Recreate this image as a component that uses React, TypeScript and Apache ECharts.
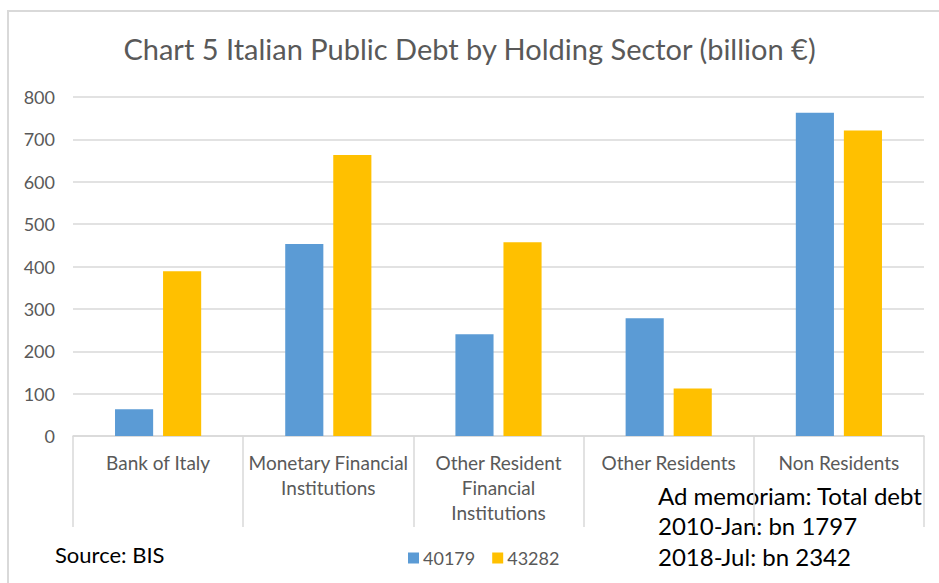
import React, { useEffect, useRef } from "react";
import * as echarts from "echarts";

const categories = [
  "Bank of Italy",
  "Monetary Financial\nInstitutions",
  "Other Resident\nFinancial\nInstitutions",
  "Other Residents",
  "Non Residents",
];
const seriesNames = ["40179", "43282"];
const values2010 = [63, 453, 240, 278, 763];
const values2018 = [389, 663, 457, 112, 721];
const yTicks = [0, 100, 200, 300, 400, 500, 600, 700, 800];
const titleText = "Chart 5 Italian Public Debt by Holding Sector (billion €)";
const sourceText = "Source: BIS";
const memoLines = ["Ad memoriam: Total debt", "2010-Jan: bn 1797", "2018-Jul: bn 2342"];

const FONT = "Lato, 'Open Sans', sans-serif";

export default function App() {
  const ref = useRef<HTMLDivElement>(null);
  useEffect(() => {
    if (!ref.current) return;
    const chart = echarts.init(ref.current, undefined, { renderer: "svg" });
    chart.setOption({
      animation: false,
      backgroundColor: "#ffffff",
      textStyle: { fontFamily: FONT },
      title: {
        text: titleText,
        left: "center",
        top: 29,
        textStyle: { fontFamily: FONT, fontSize: 29, fontWeight: "normal", color: "#595959" },
      },
      legend: {
        data: seriesNames,
        left: 403,
        top: 544,
        itemWidth: 11,
        itemHeight: 11,
        itemGap: 17,
        icon: "rect",
        textStyle: { fontFamily: FONT, fontSize: 18, color: "#595959", padding: [0, 0, 0, -1] },
      },
      grid: { left: 73, right: 15, top: 97, bottom: 147, containLabel: false },
      xAxis: {
        type: "category",
        data: categories,
        axisLine: { lineStyle: { color: "#d9d9d9", width: 1.5 } },
        axisTick: { show: true, length: 91, lineStyle: { color: "#d9d9d9", width: 1.5 } },
        axisLabel: {
          interval: 0,
          margin: 14,
          fontFamily: FONT,
          fontSize: 19,
          lineHeight: 25,
          color: "#595959",
          verticalAlign: "top",
        },
      },
      yAxis: {
        type: "value",
        min: yTicks[0],
        max: yTicks[yTicks.length - 1],
        interval: 100,
        axisLine: { show: false },
        axisTick: { show: false },
        splitLine: { lineStyle: { color: "#d9d9d9", width: 1.5 } },
        axisLabel: { margin: 18, fontFamily: FONT, fontSize: 18, color: "#595959" },
      },
      series: [
        {
          name: seriesNames[0],
          type: "bar",
          data: values2010,
          barWidth: "22.4%",
          barGap: "26%",
          itemStyle: { color: "#5B9BD5" },
        },
        {
          name: seriesNames[1],
          type: "bar",
          data: values2018,
          barWidth: "22.4%",
          barGap: "26%",
          itemStyle: { color: "#FFC000" },
        },
      ],
      graphic: [
        {
          type: "rect",
          shape: { x: 8, y: 11, width: 1000, height: 1000 },
          style: { fill: "none", stroke: "#d9d9d9", lineWidth: 2 },
          silent: true,
        },
        {
          type: "text",
          left: 55,
          top: 543,
          style: { text: sourceText, font: `22px ${FONT}`, fill: "#000000" },
        },
        ...memoLines.map((t, i) => ({
          type: "text",
          left: 658,
          top: 483 + i * 30.5,
          style: { text: t, font: `24px ${FONT}`, fill: "#000000" },
        })),
      ],
    });
    return () => chart.dispose();
  }, []);
  return (
    <div
      ref={ref}
      style={{ position: "absolute", left: 0, top: 0, width: 939, height: 583 }}
    />
  );
}
